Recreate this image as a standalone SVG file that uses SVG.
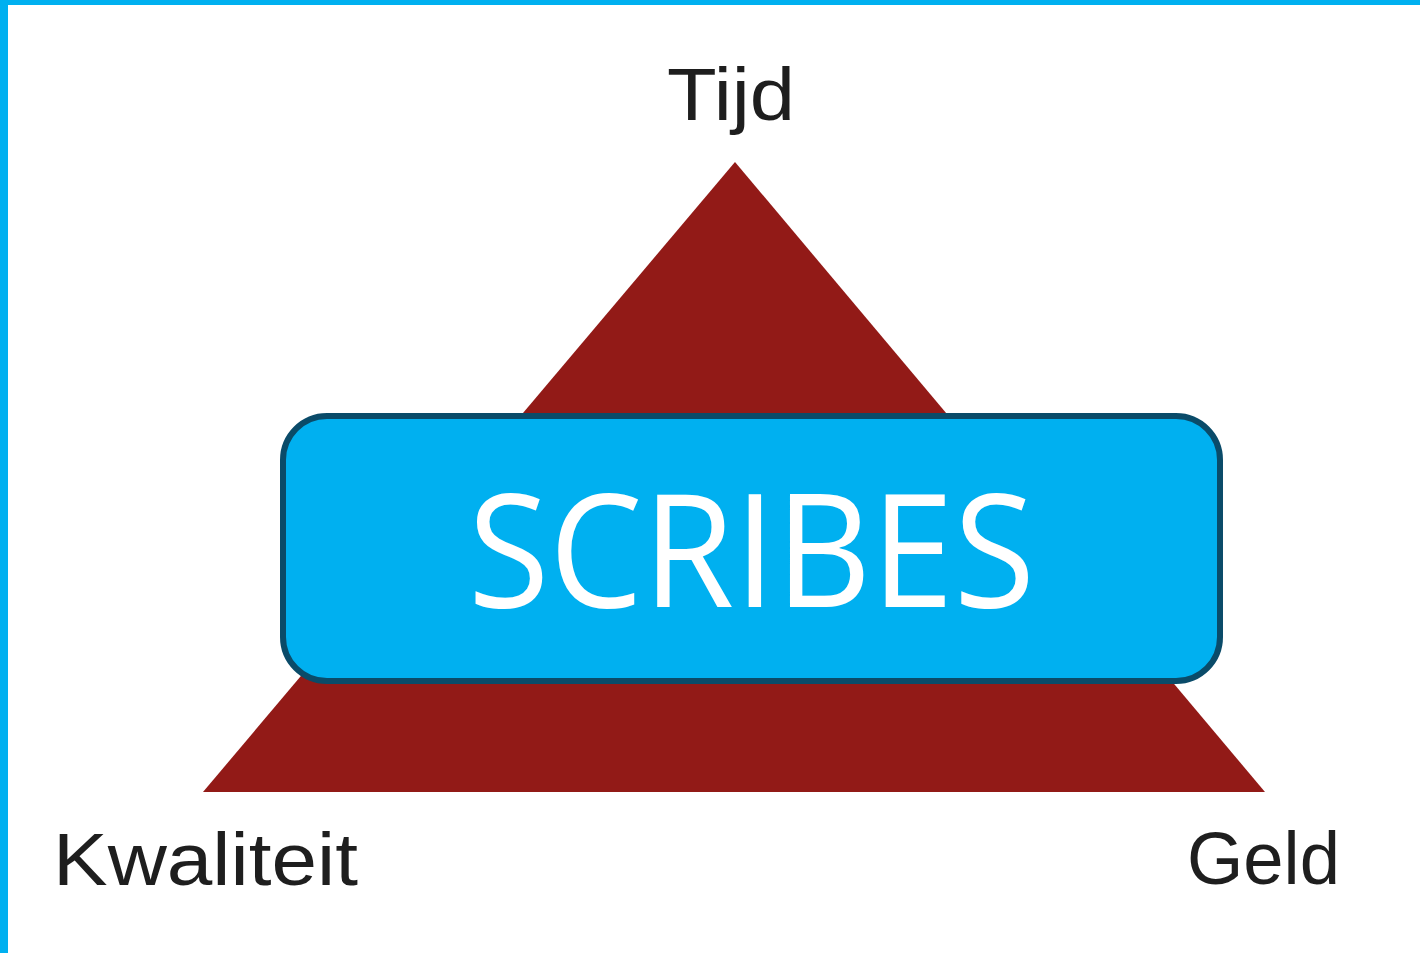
<svg xmlns="http://www.w3.org/2000/svg" width="1420" height="953" viewBox="0 0 1420 953">
<style>
.lbl{font-family:"Liberation Sans",Arial,sans-serif;font-size:75px;fill:#1e1e1e}
.main{font-family:"Open Sans","Noto Sans",sans-serif;font-size:158px;fill:#ffffff}
</style>
<rect x="0" y="0" width="1420" height="953" fill="#ffffff"/>
<rect x="0" y="0" width="1420" height="5" fill="#00B0F0"/>
<rect x="0" y="0" width="8" height="953" fill="#00B0F0"/>
<g id="triangle">
<polygon points="735,162 1265,792 203,792" fill="#921A17"/>
</g>
<g id="label-tijd"><text class="lbl" x="731" y="120" text-anchor="middle" textLength="128" lengthAdjust="spacingAndGlyphs">Tijd</text></g>
<g id="label-kwaliteit"><text class="lbl" x="53" y="885" textLength="305" lengthAdjust="spacingAndGlyphs">Kwaliteit</text></g>
<g id="label-geld"><text class="lbl" x="1187" y="884" textLength="153" lengthAdjust="spacingAndGlyphs">Geld</text></g>
<g id="scribes">
<rect x="283" y="416" width="937" height="265" rx="44" ry="44" fill="#00B0F0" stroke="#0A4B69" stroke-width="6"/>
<text class="main" x="468" y="607" textLength="567" lengthAdjust="spacingAndGlyphs">SCRIBES</text>
</g>
<g id="connectors"></g>
</svg>
